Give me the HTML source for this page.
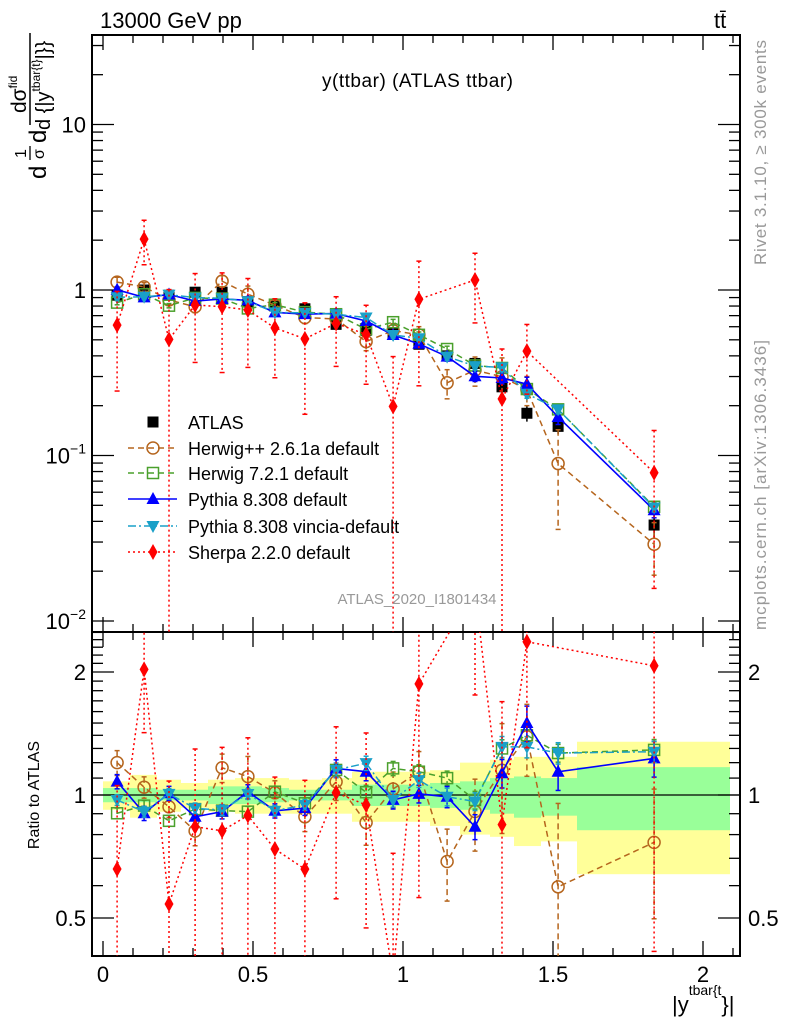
<!DOCTYPE html>
<html><head><meta charset="utf-8"><style>
html,body{margin:0;padding:0;background:#fff;overflow:hidden;width:786px;height:1024px;}
svg{display:block;font-family:"Liberation Sans",sans-serif;}
</style></head><body>
<svg id="chart" width="786" height="1024" viewBox="0 0 786 1024" xmlns="http://www.w3.org/2000/svg">
<defs>
<clipPath id="clipMain"><rect x="92" y="35" width="648" height="597"/></clipPath>
<clipPath id="clipRatio"><rect x="92" y="632" width="648" height="324"/></clipPath>
</defs>
<rect x="0" y="0" width="786" height="1024" fill="#fff"/>
<g id="bands" clip-path="url(#clipRatio)"></g>
<g id="axes"></g>
<g id="mainSeries" clip-path="url(#clipMain)"></g>
<g id="ratioSeries" clip-path="url(#clipRatio)"></g>
<text x="100" y="28" font-size="22">13000 GeV pp</text>
<text x="714" y="28" font-size="22">tt̄</text>
<text x="322" y="87" font-size="19" textLength="191">y(ttbar) (ATLAS ttbar)</text>
<text x="417" y="604" font-size="15" fill="#999" text-anchor="middle">ATLAS_2020_I1801434</text>
<text transform="translate(766,265) rotate(-90)" font-size="17" fill="#999" textLength="225">Rivet 3.1.10, ≥ 300k events</text>
<text transform="translate(766,630) rotate(-90)" font-size="17" fill="#999" textLength="290">mcplots.cern.ch [arXiv:1306.3436]</text>
<g transform="translate(0,185) rotate(-90)">
<text x="6" y="46" font-size="24">d</text>
<text x="27" y="26" font-size="16">1</text>
<line x1="25" x2="39" y1="30" y2="30" stroke="#000" stroke-width="1.3"/>
<text x="26" y="44" font-size="16">σ</text>
<text x="42" y="46" font-size="24">d</text>
<line x1="60" x2="152" y1="30" y2="30" stroke="#000" stroke-width="1.5"/>
<text x="72" y="26" font-size="21">dσ<tspan font-size="12" dy="-9">fid</tspan></text>
<text x="55" y="50" font-size="20">d {|y<tspan font-size="12" dy="-10">tbar{t}</tspan><tspan dy="10">|}}</tspan></text>
</g>
<text transform="translate(39,795) rotate(-90)" font-size="16" text-anchor="middle">Ratio to ATLAS</text>
<text x="672" y="1012" font-size="22">|y<tspan font-size="14" dy="-17">tbar{t</tspan><tspan font-size="22" dy="17">}|</tspan></text>
<g id="legend"></g>
</svg>
<script>
const xCenters=[0.047,0.137,0.22,0.307,0.397,0.483,0.573,0.673,0.777,0.877,0.967,1.053,1.147,1.24,1.33,1.413,1.517,1.837];
const binEdges=[0,0.09,0.18,0.26,0.35,0.44,0.53,0.62,0.73,0.83,0.92,1.0,1.09,1.19,1.29,1.37,1.46,1.58,2.09];
const atlas=[0.93,1.0,0.93,0.97,0.97,0.85,0.8,0.77,0.62,0.57,0.55,0.47,0.40,0.36,0.26,0.18,0.15,0.038];
const atlasErr=[0.05,0.06,0.05,0.05,0.05,0.05,0.05,0.05,0.05,0.06,0.06,0.06,0.07,0.08,0.1,0.11,0.1,0.17];
const greenUp=[1.04,1.04,1.03,1.03,1.05,1.05,1.04,1.03,1.03,1.06,1.06,1.06,1.07,1.08,1.10,1.11,1.10,1.17];
const greenDn=[0.96,0.96,0.97,0.97,0.95,0.95,0.96,0.97,0.97,0.94,0.94,0.94,0.93,0.92,0.90,0.88,0.89,0.82];
const yellowUp=[1.08,1.12,1.09,1.07,1.09,1.10,1.10,1.09,1.10,1.14,1.14,1.14,1.15,1.20,1.22,1.24,1.24,1.35];
const yellowDn=[0.92,0.88,0.91,0.93,0.91,0.90,0.90,0.90,0.90,0.86,0.86,0.86,0.84,0.80,0.79,0.75,0.77,0.64];
const herwigpp=[1.116,1.045,0.870,0.792,1.131,0.943,0.810,0.681,0.668,0.488,0.569,0.536,0.275,0.328,0.299,0.250,0.0894,0.0291];
const herwigppErr=[0.07,0.06,0.06,0.08,0.08,0.12,0.07,0.08,0.1,0.12,0.1,0.12,0.2,0.2,0.3,0.2,0.6,0.35];
const herwig7=[0.839,0.942,0.804,0.896,0.888,0.774,0.815,0.735,0.714,0.579,0.639,0.536,0.440,0.350,0.338,0.252,0.190,0.049];
const herwig7Err=[0.03,0.03,0.03,0.03,0.03,0.03,0.03,0.03,0.03,0.04,0.04,0.04,0.04,0.05,0.05,0.06,0.05,0.06];
const pythia=[1.003,0.902,0.939,0.858,0.883,0.866,0.732,0.715,0.720,0.650,0.535,0.473,0.396,0.301,0.294,0.270,0.171,0.0467];
const pythiaErr=[0.04,0.04,0.04,0.04,0.04,0.04,0.04,0.04,0.05,0.05,0.05,0.05,0.06,0.07,0.08,0.1,0.1,0.1];
const vincia=[0.904,0.91,0.936,0.900,0.891,0.855,0.732,0.728,0.714,0.682,0.535,0.511,0.396,0.347,0.341,0.236,0.190,0.0485];
const vinciaErr=[0.03,0.03,0.03,0.03,0.03,0.03,0.03,0.03,0.04,0.04,0.04,0.04,0.05,0.05,0.06,0.06,0.06,0.06];
const sherpa=[0.613,2.03,0.503,0.811,0.793,0.757,0.590,0.507,0.628,0.539,0.198,0.879,null,1.15,0.220,0.427,null,0.0787];
const sherpaErr=[0.6,0.3,1.0,0.55,0.6,0.55,0.5,0.65,0.45,0.5,1.0,0.7,null,0.45,1.0,0.45,null,0.8];
const xTickLabels=["0","0.5","1","1.5","2"];
const xTickValues=[0,0.5,1,1.5,2];
const yTickLabels=["10","1","10","10"];
const yTickValues=[10,1,0.1,0.01];
const rTickLabels=["0.5","1","2"];
const rTickValues=[0.5,1,2];

const NS="http://www.w3.org/2000/svg";
const L=92,R=740,T=35,MB=632,RB=956;
function X(v){return 103+300*v;}
function Y(v){return 290-165.5*Math.log10(v);}
function YR(r){return 795-123*Math.log2(r);}
function mk(tag,attrs,parent){const e=document.createElementNS(NS,tag);for(const k in attrs)e.setAttribute(k,attrs[k]);parent.appendChild(e);return e;}
const axes=document.getElementById('axes');
const bands=document.getElementById('bands');
const mainG=document.getElementById('mainSeries');
const ratioG=document.getElementById('ratioSeries');
const legend=document.getElementById('legend');

for(let i=0;i<atlas.length;i++){
  const x0=X(binEdges[i]),x1=X(binEdges[i+1]);
  const yb=mk('rect',{x:x0,y:YR(yellowUp[i]),width:x1-x0,height:YR(yellowDn[i])-YR(yellowUp[i]),fill:'#ffff99'},bands);
  
  
  const gb=mk('rect',{x:x0,y:YR(greenUp[i]),width:x1-x0,height:YR(greenDn[i])-YR(greenUp[i]),fill:'#99ff99'},bands);
  
  
}
const one=mk('line',{x1:L,x2:R,y1:YR(1),y2:YR(1),stroke:'#000','stroke-width':1.3},axes);



const f1=mk('rect',{x:L,y:T,width:R-L,height:MB-T,fill:'none',stroke:'#000','stroke-width':2},axes);


const f2=mk('rect',{x:L,y:MB,width:R-L,height:RB-MB,fill:'none',stroke:'#000','stroke-width':2},axes);



for(let k=0;k<=21;k++){
  const v=k/10,x=X(v),big=(k%5===0),len=big?15:8;
  for(const yy of [[T,1],[MB,-1],[MB,1],[RB,-1]]){
    const t=mk('line',{x1:x,x2:x,y1:yy[0],y2:yy[0]+yy[1]*len,stroke:'#000','stroke-width':1.3},axes);
    
    
  }
}
xTickValues.forEach((v,i)=>{
  const t=mk('text',{x:X(v),y:982,'font-size':22,'text-anchor':'middle'},axes);
  t.textContent=xTickLabels[i];
  
  
});
for(let d=-2;d<=1;d++){
  for(let m=1;m<=9;m++){
    const v=m*Math.pow(10,d),y=Y(v);
    if(y<T||y>MB)continue;
    const len=m===1?22:11;
    const a=mk('line',{x1:L,x2:L+len,y1:y,y2:y,stroke:'#000','stroke-width':1.3},axes);
    
    
    const b=mk('line',{x1:R,x2:R-len,y1:y,y2:y,stroke:'#000','stroke-width':1.3},axes);
    
    
  }
}
yTickValues.forEach((v,i)=>{
  const t=mk('text',{x:86,y:Y(v)+8,'font-size':22,'text-anchor':'end'},axes);
  t.textContent=yTickLabels[i];
  if(v<1){const s=mk('tspan',{'font-size':14,dy:-10},t);s.textContent=v===0.1?'−1':'−2';}
  
  
});
for(let k=4;k<=25;k++){
  const v=k/10,y=YR(v);
  if(y<MB||y>RB)continue;
  const big=(k===5||k===10||k===20),len=big?22:11;
  const a=mk('line',{x1:L,x2:L+len,y1:y,y2:y,stroke:'#000','stroke-width':1.3},axes);
  
  
  const b=mk('line',{x1:R,x2:R-len,y1:y,y2:y,stroke:'#000','stroke-width':1.3},axes);
  
  
}
rTickValues.forEach((v,i)=>{
  const t=mk('text',{x:86,y:YR(v)+8,'font-size':22,'text-anchor':'end'},axes);
  t.textContent=rTickLabels[i];
  
  
  const t2=mk('text',{x:748,y:YR(v)+8,'font-size':22},axes);
  t2.textContent=rTickLabels[i];
  
  
});

function marker(g,kind,x,y,color,name){
  let e;
  if(kind==='sq')e=mk('rect',{x:x-5.5,y:y-5.5,width:11,height:11,fill:'#000'},g);
  else if(kind==='circ')e=mk('circle',{cx:x,cy:y,r:6,fill:'none',stroke:color,'stroke-width':1.5},g);
  else if(kind==='osq')e=mk('rect',{x:x-5.5,y:y-5.5,width:11,height:11,fill:'none',stroke:color,'stroke-width':1.5},g);
  else if(kind==='tri')e=mk('polygon',{points:`${x},${y-7} ${x-6.5},${y+5} ${x+6.5},${y+5}`,fill:color},g);
  else if(kind==='itri')e=mk('polygon',{points:`${x},${y+7} ${x-6.5},${y-5} ${x+6.5},${y-5}`,fill:color},g);
  else if(kind==='dia')e=mk('polygon',{points:`${x},${y-8} ${x-4.5},${y} ${x},${y+8} ${x+4.5},${y}`,fill:color},g);
  
  
}
const series=[
  {name:'herwigpp-2-6-1a',label:'Herwig++ 2.6.1a default',vals:herwigpp,err:herwigppErr,color:'#b5651d',dash:'6,4',kind:'circ',w:1.5},
  {name:'herwig-7-2-1',label:'Herwig 7.2.1 default',vals:herwig7,err:herwig7Err,color:'#4aa02c',dash:'6,4',kind:'osq',w:1.5},
  {name:'pythia-8-308',label:'Pythia 8.308 default',vals:pythia,err:pythiaErr,color:'#0000ff',dash:'',kind:'tri',w:1.6},
  {name:'pythia-8-308-vincia',label:'Pythia 8.308 vincia-default',vals:vincia,err:vinciaErr,color:'#1aa0c8',dash:'8,3,2,3',kind:'itri',w:1.5},
  {name:'sherpa-2-2-0',label:'Sherpa 2.2.0 default',vals:sherpa,err:sherpaErr,color:'#ff0000',dash:'2,3',kind:'dia',w:1.5}
];
function drawSeries(s,g,yf,ratio){
  const gg=mk('g',{},g);
  
  
  let pts=[];
  s.vals.forEach((v,i)=>{ if(v===null)return; const val=ratio?v/atlas[i]:v; pts.push([X(xCenters[i]),yf(val),val,s.err[i]]);});
  const p=mk('polyline',{points:pts.map(q=>q[0]+','+q[1]).join(' '),fill:'none',stroke:s.color,'stroke-width':s.w,'stroke-dasharray':s.dash},gg);
  
  
  pts.forEach(q=>{
    const lo=Math.max(q[2]*(1-q[3]),1e-4),hi=q[2]*(1+q[3]);
    const e=mk('line',{x1:q[0],x2:q[0],y1:yf(hi),y2:yf(lo),stroke:s.color,'stroke-width':1.5,'stroke-dasharray':s.dash},gg);
    
    
    for(const yy of [yf(hi),yf(lo)]){
      const c=mk('line',{x1:q[0]-2.5,x2:q[0]+2.5,y1:yy,y2:yy,stroke:s.color,'stroke-width':1.5},gg);
      
      
    }
    marker(gg,s.kind,q[0],q[1],s.color,s.name+'-point');
  });
}
const ag=mk('g',{},mainG);


atlas.forEach((v,i)=>{
  const x=X(xCenters[i]);
  const e=mk('line',{x1:x,x2:x,y1:Y(v*(1+atlasErr[i])),y2:Y(v*(1-atlasErr[i])),stroke:'#000','stroke-width':1.5},ag);
  
  
  marker(ag,'sq',x,Y(v),'#000','atlas-point');
});
series.forEach(s=>{drawSeries(s,mainG,Y,false);drawSeries(s,ratioG,YR,true);});

const lrows=[422,448,473,499,526,552];
marker(legend,'sq',153,lrows[0],'#000','legend-atlas-marker');
const lt0=mk('text',{x:188,y:lrows[0]+7,'font-size':18},legend);
lt0.textContent='ATLAS';


series.forEach((s,k)=>{
  const y=lrows[k+1];
  const ln=mk('line',{x1:128,x2:177,y1:y,y2:y,stroke:s.color,'stroke-width':s.w,'stroke-dasharray':s.dash},legend);
  
  
  marker(legend,s.kind,153,y,s.color,'legend-marker-'+s.name);
  const t=mk('text',{x:188,y:y+7,'font-size':18},legend);
  t.textContent=s.label;
  
  
});
</script>
</body></html>
